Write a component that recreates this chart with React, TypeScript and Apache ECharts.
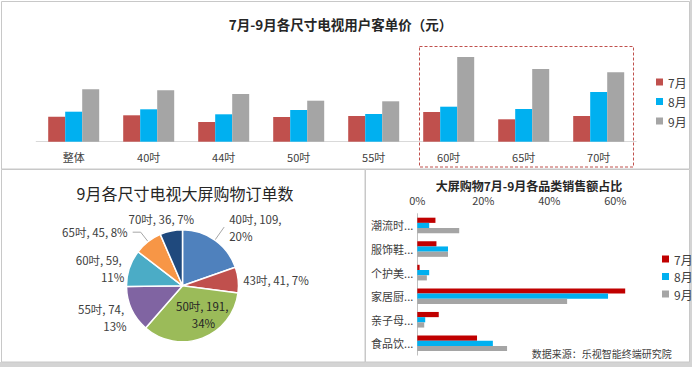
import React, { useEffect, useRef } from 'react';
import * as echarts from 'echarts';

// ---- Top chart: 客单价 by TV size ----
const sizeCategories = ['整体', '40吋', '44吋', '50吋', '55吋', '60吋', '65吋', '70吋'];
const priceJul = [250, 264, 197, 247, 257, 297, 224, 257];
const priceAug = [300, 324, 274, 317, 277, 350, 327, 497];
const priceSep = [524, 514, 477, 410, 404, 847, 727, 694];

// ---- Pie: 9月 orders by size ----
const pieNames = ['40吋', '43吋', '50吋', '55吋', '60吋', '65吋', '70吋'];
const pieValues = [109, 41, 191, 74, 59, 45, 36];

// ---- Right chart: category share of sales ----
const goodsCategories = ['潮流时...', '服饰鞋...', '个护美...', '家居厨...', '亲子母...', '食品饮...'];
const shareJul = [5.5, 5.8, 0.7, 63, 6.5, 18.1];
const shareAug = [3.6, 9.3, 3.6, 57.8, 2.4, 22.9];
const shareSep = [12.7, 9.3, 2.9, 45.4, 2.1, 27.2];

const months = ['7月', '8月', '9月'];

const FONT = '"Noto Sans CJK SC", "Microsoft YaHei", sans-serif';
const topColors = ['#c0504d', '#00b0f0', '#a5a5a5'];
const rightColors = ['#c00000', '#00b0f0', '#a5a5a5'];
const pieColors = ['#4f81bd', '#c0504d', '#9bbb59', '#8064a2', '#4bacc6', '#f79646', '#1f497d'];

const pieLabelStyle: any[] = [
  { labelLine: { show: true, length: 16, length2: 0 } },
  { labelLine: { show: false, length: 0, length2: 0 } },
  { label: { position: 'inside', color: '#262626' } },
  { labelLine: { show: false, length: 0, length2: 0 } },
  { labelLine: { show: false, length: 0, length2: 0 } },
  { labelLine: { show: true, length: 12, length2: 8 } },
  { labelLine: { show: false, length: 4, length2: 0 } },
];
const pieLabelAdjust: Record<number, any> = {
  2: { dx: 10 },
  3: { dy: 8 },
  6: { align: 'center', verticalAlign: 'bottom', dx: -4 },
};

export default function App() {
  const ref = useRef<HTMLDivElement>(null);
  useEffect(() => {
    if (!ref.current) return;
    const chart = echarts.init(ref.current, undefined, { renderer: 'svg' });
    const option: any = {
      animation: false,
      backgroundColor: '#ffffff',
      textStyle: { fontFamily: FONT },
      grid: [
        { left: 36.2, width: 600, top: 41.7, height: 100 },
        { left: 417.3, width: 231, top: 213.7, height: 141.4 },
      ],
      xAxis: [
        {
          gridIndex: 0,
          type: 'category',
          data: sizeCategories,
          axisTick: { show: false },
          axisLine: { lineStyle: { color: '#d9d9d9' } },
          axisLabel: { color: '#404040', fontSize: 11, margin: 10, fontFamily: FONT },
        },
        {
          gridIndex: 1,
          type: 'value',
          position: 'top',
          min: 0,
          max: 70,
          interval: 20,
          splitLine: { show: false },
          axisLine: { show: false },
          axisTick: { show: false },
          axisLabel: { formatter: '{value}%', showMaxLabel: false, color: '#404040', fontSize: 11, margin: 8, fontFamily: FONT },
        },
      ],
      yAxis: [
        { gridIndex: 0, type: 'value', min: 0, max: 1000, show: false },
        {
          gridIndex: 1,
          type: 'category',
          data: goodsCategories,
          inverse: true,
          axisTick: { show: false },
          axisLine: { lineStyle: { color: '#bfbfbf' } },
          axisLabel: { color: '#404040', fontSize: 11, margin: 4, fontFamily: FONT },
        },
      ],
      legend: [
        {
          left: 651,
          top: 71,
          orient: 'vertical',
          icon: 'rect',
          itemWidth: 7,
          itemHeight: 7,
          itemGap: 7.5,
          selectedMode: false,
          data: months.map((m, i) => ({ name: m, itemStyle: { color: topColors[i] } })),
          textStyle: { fontSize: 12, color: '#404040', fontFamily: FONT },
        },
        {
          left: 657,
          top: 248,
          orient: 'vertical',
          icon: 'rect',
          itemWidth: 7,
          itemHeight: 7,
          itemGap: 5.5,
          selectedMode: false,
          data: months.map((m, i) => ({ name: m, itemStyle: { color: rightColors[i] } })),
          textStyle: { fontSize: 12, color: '#404040', fontFamily: FONT },
        },
      ],
      series: [
        ...[priceJul, priceAug, priceSep].map((d, i) => ({
          type: 'bar',
          name: months[i],
          xAxisIndex: 0,
          yAxisIndex: 0,
          data: d,
          barWidth: 17,
          barGap: '0%',
          itemStyle: { color: topColors[i] },
        })),
        ...[shareJul, shareAug, shareSep].map((d, i) => ({
          type: 'bar',
          name: months[i],
          xAxisIndex: 1,
          yAxisIndex: 1,
          data: d,
          barWidth: 5.2,
          barGap: '0%',
          itemStyle: { color: rightColors[i] },
        })),
        {
          type: 'pie',
          center: [182.5, 285.8],
          radius: 56,
          startAngle: 90,
          clockwise: true,
          avoidLabelOverlap: false,
          percentPrecision: 0,
          itemStyle: { borderColor: '#ffffff', borderWidth: 1.5 },
          label: {
            formatter: '{b}, {c}, {d}%',
            fontSize: 11.5,
            color: '#404040',
            width: 66,
            overflow: 'break',
            lineHeight: 17,
            fontFamily: FONT,
          },
          labelLine: { show: false, length: 0, length2: 0, lineStyle: { color: '#a6a6a6', width: 1 } },
          labelLayout: (params: any) => pieLabelAdjust[params.dataIndex] || {},
          data: pieNames.map((n, i) => ({
            name: n,
            value: pieValues[i],
            itemStyle: { color: pieColors[i] },
            ...pieLabelStyle[i],
          })),
        },
      ],
      graphic: [
        { type: 'rect', shape: { x: 0, y: 362, width: 692, height: 5 }, style: { fill: '#d4d4d4' }, silent: true },
        { type: 'rect', shape: { x: 690, y: 0, width: 2, height: 367 }, style: { fill: '#d4d4d4' }, silent: true },
        { type: 'rect', shape: { x: 1.5, y: 1.5, width: 688, height: 167.5 }, style: { fill: 'none', stroke: '#c8c8c8', lineWidth: 1 }, silent: true },
        { type: 'rect', shape: { x: 1.5, y: 169.5, width: 363.5, height: 192.5 }, style: { fill: 'none', stroke: '#c8c8c8', lineWidth: 1 }, silent: true },
        { type: 'rect', shape: { x: 365.5, y: 169.5, width: 324, height: 192.5 }, style: { fill: 'none', stroke: '#c8c8c8', lineWidth: 1 }, silent: true },
        { type: 'rect', shape: { x: 419.5, y: 46.5, width: 214, height: 120.5 }, style: { fill: 'none', stroke: '#c0504d', lineWidth: 1, lineDash: [3, 2] }, silent: true },
        { type: 'text', x: 340.5, y: 23.7, style: { text: '7月-9月各尺寸电视用户客单价（元）', fill: '#262626', font: `bold 13.5px ${FONT}`, align: 'center', verticalAlign: 'middle' } },
        { type: 'text', x: 185, y: 192.5, style: { text: '9月各尺寸电视大屏购物订单数', fill: '#262626', font: `16px ${FONT}`, align: 'center', verticalAlign: 'middle' } },
        { type: 'text', x: 529, y: 185, style: { text: '大屏购物7月-9月各品类销售额占比', fill: '#262626', font: `bold 12px ${FONT}`, align: 'center', verticalAlign: 'middle' } },
        { type: 'text', x: 531.7, y: 353.3, style: { text: '数据来源：乐视智能终端研究院', fill: '#404040', font: `10px ${FONT}`, align: 'left', verticalAlign: 'middle' } },
      ],
    };
    chart.setOption(option);
    return () => chart.dispose();
  }, []);
  return <div ref={ref} style={{ position: 'absolute', left: 0, top: 0, width: 692, height: 367 }} />;
}
